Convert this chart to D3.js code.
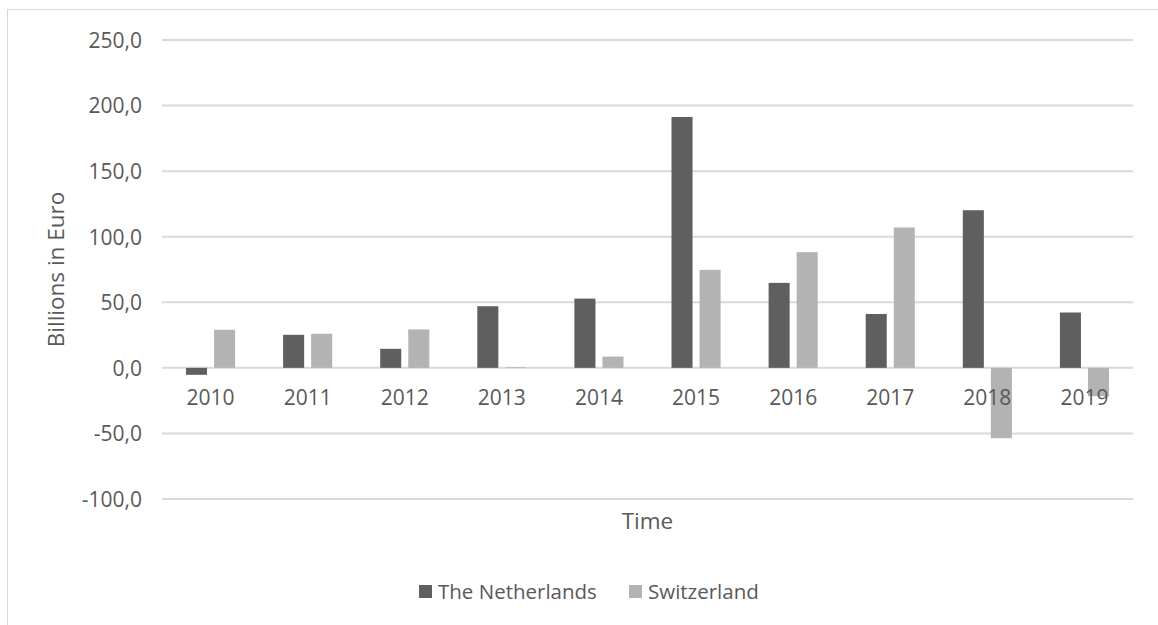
<!DOCTYPE html>
<html lang="en">
<head>
    <meta charset="utf-8">
    <title>Billions in Euro</title>
    <script type="text/javascript" src="https://d3js.org/d3.v7.min.js"></script>
    <style>
        html, body {
            margin: 0;
            padding: 0;
            background: #fff;
        }
        text {
            font-family: "Open Sans", sans-serif;
            font-size: 20.5px;
            fill: #595959;
        }
        .tick text {
            font-size: 21px;
        }
        .title {
            font-size: 22.5px;
        }
        .grid line {
            stroke: #d9d9d9;
            stroke-width: 2px;
        }
    </style>
</head>
<body>
<script type="text/javascript">
    var years = ["2010", "2011", "2012", "2013", "2014", "2015", "2016", "2017", "2018", "2019"];
    var netherlands = [-5.3, 25.2, 14.5, 47.0, 52.8, 191.3, 64.8, 41.1, 120.2, 42.2];
    var switzerland = [29.0, 26.0, 29.3, 0.5, 8.6, 74.7, 88.2, 107.0, -53.6, -21.6];
    var seriesNames = ["The Netherlands", "Switzerland"];
    var seriesColors = ["#5f5f5f", "#b3b3b3"];
    var yTicks = [-100, -50, 0, 50, 100, 150, 200, 250];

    var W = 1158, H = 625;
    var plot = {left: 162, right: 1133, top: 40, bottom: 499};

    var svg = d3.select("body").append("svg")
        .attr("width", W).attr("height", H);

    // outer chart border (runs off the right and bottom edges)
    svg.append("rect")
        .attr("x", 7.5).attr("y", 9.5)
        .attr("width", 1200).attr("height", 650)
        .attr("fill", "none").attr("stroke", "#d9d9d9").attr("stroke-width", 1);

    var y = d3.scaleLinear().domain([-100, 250]).range([plot.bottom, plot.top]);
    var x0 = d3.scaleBand().domain(years).range([plot.left, plot.right]);
    var x1 = d3.scaleBand().domain(seriesNames)
        .range([24, x0.bandwidth() - 24]).paddingInner(0.25);

    var euro = d3.formatLocale({decimal: ",", thousands: ".", grouping: [3], currency: ["", " €"], minus: "-"});
    var fmt = euro.format(".1f");

    // gridlines
    svg.append("g").attr("class", "grid")
        .selectAll("line").data(yTicks).enter().append("line")
        .attr("x1", plot.left).attr("x2", plot.right)
        .attr("y1", function(d){ return y(d); })
        .attr("y2", function(d){ return y(d); });

    // y axis labels
    var yAxis = d3.axisLeft(y).tickValues(yTicks).tickFormat(fmt).tickSize(0).tickPadding(20);
    var gy = svg.append("g").attr("transform", "translate(" + plot.left + ",0)").call(yAxis);
    gy.select(".domain").remove();
    gy.selectAll("text").attr("font-family", null).attr("font-size", null).attr("dy", "0.35em");

    // bars
    var rows = years.map(function(yr, i) {
        return {year: yr, values: [netherlands[i], switzerland[i]]};
    });
    var groups = svg.append("g").selectAll("g").data(rows).enter().append("g")
        .attr("transform", function(d){ return "translate(" + x0(d.year) + ",0)"; });
    groups.selectAll("rect").data(function(d){
            return d.values.map(function(v, k){ return {name: seriesNames[k], value: v, k: k}; });
        }).enter().append("rect")
        .attr("x", function(d){ return x1(d.name); })
        .attr("width", x1.bandwidth())
        .attr("y", function(d){ return y(Math.max(0, d.value)); })
        .attr("height", function(d){ return Math.abs(y(d.value) - y(0)); })
        .attr("fill", function(d){ return seriesColors[d.k]; });

    // x axis labels
    var xAxis = d3.axisBottom(x0).tickSize(0).tickPadding(22);
    var gx = svg.append("g").attr("transform", "translate(0," + y(0) + ")").call(xAxis);
    gx.select(".domain").remove();
    gx.selectAll("text").attr("font-family", null).attr("font-size", null);

    // axis titles
    svg.append("text").attr("class", "title")
        .attr("transform", "translate(64," + ((plot.top + plot.bottom) / 2) + ") rotate(-90)")
        .attr("text-anchor", "middle")
        .text("Billions in Euro");
    svg.append("text").attr("class", "title")
        .attr("x", (plot.left + plot.right) / 2).attr("y", 529)
        .attr("text-anchor", "middle")
        .text("Time");

    // legend
    var legendX = [419, 629];
    var legend = svg.append("g").selectAll("g").data(seriesNames).enter().append("g")
        .attr("transform", function(d, i){ return "translate(" + legendX[i] + ",585)"; });
    legend.append("rect").attr("width", 13).attr("height", 13)
        .attr("fill", function(d, i){ return seriesColors[i]; });
    legend.append("text").attr("x", 19).attr("y", 6.5).attr("dy", "0.35em").text(function(d){ return d; });
</script>
</body>
</html>
